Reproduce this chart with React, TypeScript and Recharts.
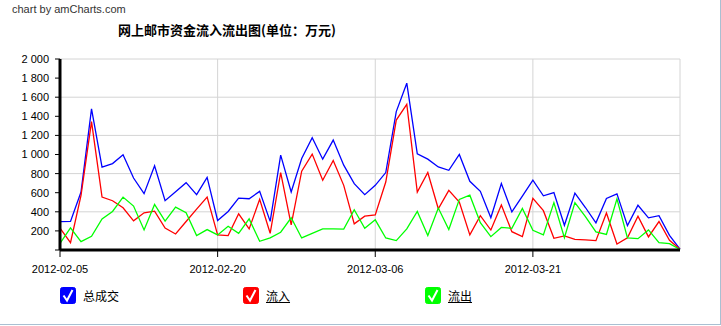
import React from "react";
import { LineChart, Line, XAxis, YAxis, CartesianGrid } from "recharts";

const dates = [
  "2012-02-05", "2012-02-06", "2012-02-07", "2012-02-08", "2012-02-09", "2012-02-10",
  "2012-02-11", "2012-02-12", "2012-02-13", "2012-02-14", "2012-02-15", "2012-02-16",
  "2012-02-17", "2012-02-18", "2012-02-19", "2012-02-20", "2012-02-21", "2012-02-22",
  "2012-02-23", "2012-02-24", "2012-02-25", "2012-02-26", "2012-02-27", "2012-02-28",
  "2012-02-29", "2012-03-01", "2012-03-02", "2012-03-03", "2012-03-04", "2012-03-05",
  "2012-03-06", "2012-03-07", "2012-03-08", "2012-03-09", "2012-03-10", "2012-03-11",
  "2012-03-12", "2012-03-13", "2012-03-14", "2012-03-15", "2012-03-16", "2012-03-17",
  "2012-03-18", "2012-03-19", "2012-03-20", "2012-03-21", "2012-03-22", "2012-03-23",
  "2012-03-24", "2012-03-25", "2012-03-26", "2012-03-27", "2012-03-28", "2012-03-29",
  "2012-03-30", "2012-03-31", "2012-04-01", "2012-04-02", "2012-04-03", "2012-04-04",
];

// 总成交
const totalTrade = [
  298, 300, 607, 1477, 867, 905, 997, 754, 590, 881,
  517, 610, 705, 579, 761, 309, 403, 544, 537, 614,
  300, 993, 607, 958, 1176, 951, 1151, 888, 695, 579,
  677, 811, 1449, 1747, 1007, 951, 870, 835, 1000, 719,
  614, 338, 696, 399, 565, 731, 567, 602, 259, 596,
  445, 284, 539, 588, 255, 469, 337, 360, 154, 10,
];

// 流入
const inflow = [
  228, 77, 572, 1344, 554, 516, 442, 305, 390, 407,
  230, 168, 298, 428, 554, 158, 151, 379, 221, 530,
  175, 811, 263, 825, 1004, 730, 937, 677, 274, 354,
  368, 712, 1361, 1526, 607, 811, 432, 625, 502, 158,
  360, 209, 471, 192, 140, 541, 412, 122, 147, 112,
  105, 98, 388, 63, 128, 355, 137, 298, 101, 8,
];

// 流出
const outflow = [
  70, 232, 88, 144, 326, 404, 554, 460, 210, 477,
  302, 449, 390, 151, 214, 158, 249, 175, 326, 91,
  128, 186, 337, 126, 175, 221, 221, 218, 421, 228,
  316, 126, 98, 221, 404, 151, 439, 214, 530, 574,
  286, 140, 236, 227, 434, 206, 158, 496, 128, 496,
  350, 190, 163, 535, 126, 119, 210, 77, 66, 5,
];

const xTicks = ["2012-02-05", "2012-02-20", "2012-03-06", "2012-03-21"];
const yTicks = [0, 200, 400, 600, 800, 1000, 1200, 1400, 1600, 1800, 2000];

const data = dates.map((d, i) => ({
  date: d,
  total: totalTrade[i],
  inflow: inflow[i],
  outflow: outflow[i],
}));

const fmtY = (v: number) => (v === 0 ? "" : v >= 1000 ? `${Math.floor(v / 1000)} ${String(v % 1000).padStart(3, "0")}` : String(v));

function CheckBox({ color }: { color: string }) {
  return (
    <svg width={16} height={17} style={{ display: "block" }}>
      <rect x={0.5} y={0.5} width={15} height={16} rx={2} fill={color} stroke={color} />
      <path d="M3.5 8.5 L7 13.5 L12.5 3" fill="none" stroke="#fff" strokeWidth={2} />
    </svg>
  );
}

const legendItems = [
  { label: "总成交", color: "#0000ff", x: 60, link: false },
  { label: "流入", color: "#ff0000", x: 243, link: true },
  { label: "流出", color: "#00ff00", x: 425, link: true },
];

export default function App() {
  return (
    <div
      style={{
        position: "absolute",
        left: 0,
        top: 0,
        width: 720,
        height: 324,
        borderRight: "1px solid #a9c0d2",
        borderBottom: "1px solid #a9c0d2",
        background: "#fff",
        fontFamily: "'Liberation Sans', Arial, sans-serif",
        overflow: "hidden",
      }}
    >
      <div style={{ position: "absolute", left: 12, top: 3, fontSize: 11, color: "#333" }}>
        chart by amCharts.com
      </div>
      <div
        style={{
          position: "absolute",
          left: 118,
          top: 20,
          fontSize: 13,
          fontWeight: "bold",
          color: "#000",
          fontFamily: "'Noto Sans CJK SC', sans-serif",
        }}
      >
        网上邮市资金流入流出图(单位：万元)
      </div>
      <LineChart width={721} height={326} data={data} margin={{ top: 59, right: 41, bottom: 46, left: 8 }}>
        <CartesianGrid stroke="#d4d4d4" strokeWidth={1} />
        <XAxis
          dataKey="date"
          ticks={xTicks}
          interval={0}
          height={30}
          tickSize={7}
          tickMargin={8}
          axisLine={{ stroke: "#000", strokeWidth: 3 }}
          tickLine={{ stroke: "#000", strokeWidth: 1 }}
          tick={{ fill: "#000", fontSize: 11, fontFamily: "'Liberation Sans', Arial, sans-serif" }}
        />
        <YAxis
          domain={[0, 2000]}
          ticks={yTicks}
          width={52}
          tickSize={5}
          tickMargin={6}
          tickFormatter={fmtY}
          axisLine={{ stroke: "#000", strokeWidth: 3 }}
          tickLine={{ stroke: "#000", strokeWidth: 1 }}
          tick={{ fill: "#000", fontSize: 11, fontFamily: "'Liberation Sans', Arial, sans-serif" }}
        />
        <Line dataKey="total" stroke="#0000ff" strokeWidth={1.3} dot={false} isAnimationActive={false} />
        <Line dataKey="inflow" stroke="#ff0000" strokeWidth={1.3} dot={false} isAnimationActive={false} />
        <Line dataKey="outflow" stroke="#00ff00" strokeWidth={1.3} dot={false} isAnimationActive={false} />
      </LineChart>
      {legendItems.map((it) => (
        <div
          key={it.label}
          style={{ position: "absolute", left: it.x, top: 287, display: "flex", alignItems: "center" }}
        >
          <CheckBox color={it.color} />
          <span
            style={{
              marginLeft: 7,
              fontSize: 12,
              color: "#000",
              textDecoration: it.link ? "underline" : "none",
              fontFamily: "'Noto Sans CJK SC', sans-serif",
            }}
          >
            {it.label}
          </span>
        </div>
      ))}
    </div>
  );
}
